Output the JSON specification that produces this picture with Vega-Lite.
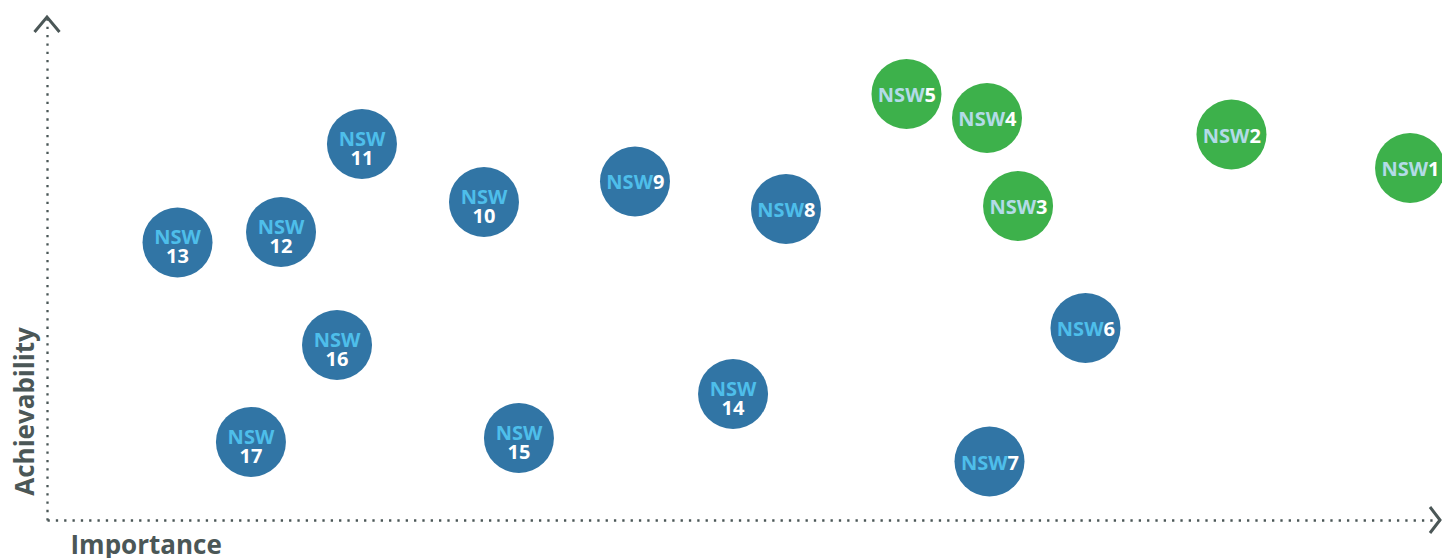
{
  "$schema": "https://vega.github.io/schema/vega-lite/v6.json",
  "autosize": {"type": "none"},
  "padding": {"left": 47, "top": 17, "right": 2, "bottom": 38},
  "width": 1393,
  "height": 503,
  "background": "white",
  "config": {"view": {"stroke": null}},
  "data": {"values": [
    {"id": 1, "importance": 97.85, "achievability": 69.98, "group": "green"},
    {"id": 2, "importance": 85.03, "achievability": 76.64, "group": "green"},
    {"id": 3, "importance": 69.71, "achievability": 62.43, "group": "green"},
    {"id": 4, "importance": 67.48, "achievability": 79.92, "group": "green"},
    {"id": 5, "importance": 61.70, "achievability": 84.69, "group": "green"},
    {"id": 6, "importance": 74.55, "achievability": 38.17, "group": "blue"},
    {"id": 7, "importance": 67.66, "achievability": 11.63, "group": "blue"},
    {"id": 8, "importance": 53.05, "achievability": 61.83, "group": "blue"},
    {"id": 9, "importance": 42.21, "achievability": 67.30, "group": "blue"},
    {"id": 10, "importance": 31.37, "achievability": 63.22, "group": "blue"},
    {"id": 11, "importance": 22.61, "achievability": 74.75, "group": "blue"},
    {"id": 12, "importance": 16.80, "achievability": 57.26, "group": "blue"},
    {"id": 13, "importance": 9.37, "achievability": 55.17, "group": "blue"},
    {"id": 14, "importance": 49.25, "achievability": 25.05, "group": "blue"},
    {"id": 15, "importance": 33.88, "achievability": 16.30, "group": "blue"},
    {"id": 16, "importance": 20.82, "achievability": 34.79, "group": "blue"},
    {"id": 17, "importance": 14.64, "achievability": 15.51, "group": "blue"}
  ]},
  "encoding": {
    "x": {
      "field": "importance", "type": "quantitative",
      "scale": {"domain": [0, 100], "nice": false, "zero": false},
      "axis": {
        "title": "Importance", "domain": true, "domainColor": "#4b5757",
        "domainDash": [2.3, 6.03], "domainWidth": 2.3,
        "ticks": false, "labels": false, "grid": false,
        "titleFont": "Open Sans", "titleFontSize": 26, "titleFontWeight": "bold",
        "titleColor": "#4b5757", "titleAnchor": "start", "titleAlign": "left",
        "titleBaseline": "alphabetic", "titleX": 23, "titleY": 33
      }
    },
    "y": {
      "field": "achievability", "type": "quantitative",
      "scale": {"domain": [0, 100], "nice": false, "zero": false},
      "axis": {
        "title": "Achievability", "domain": true, "domainColor": "#4b5757",
        "domainDash": [2.3, 6.03], "domainWidth": 2.3,
        "ticks": false, "labels": false, "grid": false,
        "titleFont": "Open Sans", "titleFontSize": 26, "titleFontWeight": "bold",
        "titleColor": "#4b5757", "titleAngle": -90, "titleAlign": "center",
        "titleBaseline": "alphabetic", "titleX": -14, "titleY": 394
      }
    }
  },
  "layer": [
    {
      "mark": {"type": "point", "filled": true, "shape": "circle", "size": 4900, "opacity": 1, "strokeWidth": 0},
      "encoding": {
        "color": {"field": "group", "type": "nominal", "scale": {"domain": ["blue", "green"], "range": ["#3175a5", "#3db14b"]}, "legend": null}
      }
    },
    {
      "transform": [{"filter": "datum.id < 10"}],
      "mark": {"type": "text", "text": "NSW", "align": "right", "baseline": "alphabetic", "dx": 18, "dy": 8, "font": "Open Sans", "fontSize": 20, "fontWeight": "bold"},
      "encoding": {
        "color": {"condition": {"test": "datum.group === 'green'", "value": "#b3dbe7"}, "value": "#4ebeea"}
      }
    },
    {
      "transform": [{"filter": "datum.id < 10"}],
      "mark": {"type": "text", "align": "left", "baseline": "alphabetic", "dx": 18, "dy": 8, "font": "Open Sans", "fontSize": 20, "fontWeight": "bold", "color": "white"},
      "encoding": {"text": {"field": "id", "type": "nominal"}}
    },
    {
      "transform": [{"filter": "datum.id >= 10"}],
      "mark": {"type": "text", "text": "NSW", "align": "center", "baseline": "alphabetic", "dy": 2, "font": "Open Sans", "fontSize": 20, "fontWeight": "bold", "color": "#4ebeea"}
    },
    {
      "transform": [{"filter": "datum.id >= 10"}],
      "mark": {"type": "text", "align": "center", "baseline": "alphabetic", "dy": 21, "font": "Open Sans", "fontSize": 20, "fontWeight": "bold", "color": "white"},
      "encoding": {"text": {"field": "id", "type": "nominal"}}
    },
    {
      "transform": [{"filter": "datum.id === 1"}],
      "mark": {"type": "point", "shape": "M-1,1.2L0,0L1,1.2", "filled": false, "size": 625, "color": "#4b5757", "stroke": "#4b5757", "strokeWidth": 3, "opacity": 1},
      "encoding": {"x": {"datum": 0}, "y": {"datum": 100}}
    },
    {
      "transform": [{"filter": "datum.id === 1"}],
      "mark": {"type": "point", "shape": "M-0.77,-1L0,0L-0.77,1", "filled": false, "size": 676, "color": "#4b5757", "stroke": "#4b5757", "strokeWidth": 3, "opacity": 1},
      "encoding": {"x": {"datum": 100}, "y": {"datum": 0}}
    }
  ]
}
